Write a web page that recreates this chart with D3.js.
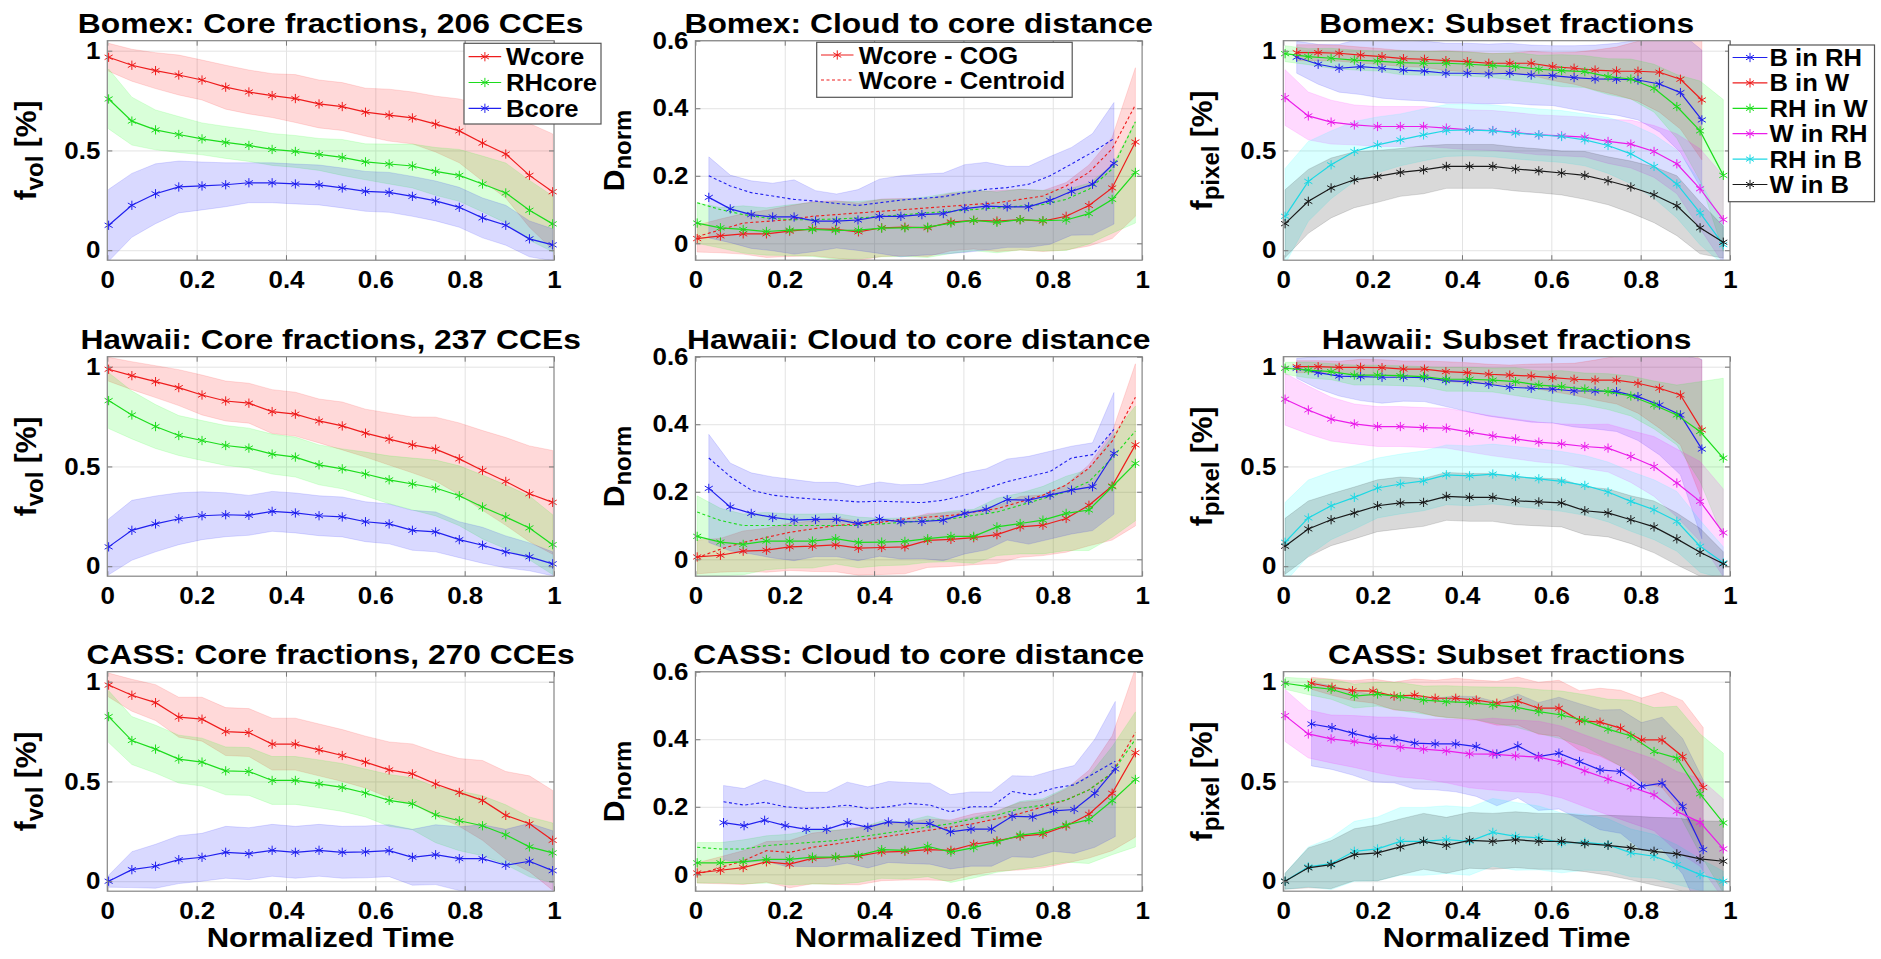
<!DOCTYPE html>
<html>
<head>
<meta charset="utf-8">
<script src="https://cdn.jsdelivr.net/npm/d3@7"></script>
<style>
  body { margin: 0; background: #fff; }
  text { font-family: "Liberation Sans", Arial, sans-serif; font-weight: bold; fill: #000; }
</style>
</head>
<body>
<svg id="fig"></svg>
<script>
// ---------- data ----------
var cases = ["Bomex", "Hawaii", "CASS"];
var cceCounts = [206, 237, 270];

// normalized time grids
var tCore = [0.003, 0.055, 0.108, 0.160, 0.212, 0.265, 0.317, 0.369, 0.421, 0.474, 0.526, 0.578, 0.631, 0.683, 0.735, 0.788, 0.840, 0.892, 0.945, 0.997];
var tLong = [0.004, 0.056, 0.107, 0.159, 0.211, 0.262, 0.314, 0.365, 0.417, 0.469, 0.520, 0.572, 0.623, 0.675, 0.727, 0.778, 0.830, 0.881, 0.933, 0.985];
var tShort = [0.030, 0.078, 0.125, 0.173, 0.221, 0.269, 0.316, 0.364, 0.412, 0.460, 0.507, 0.555, 0.603, 0.651, 0.698, 0.746, 0.794, 0.842, 0.889, 0.937];
var tShortCass = [0.063, 0.109, 0.155, 0.201, 0.248, 0.294, 0.340, 0.386, 0.432, 0.478, 0.525, 0.571, 0.617, 0.663, 0.709, 0.755, 0.802, 0.848, 0.894, 0.940];

// core fractions (mean, spread)
var bomexWcore   = [0.967, 0.927, 0.900, 0.878, 0.853, 0.817, 0.793, 0.775, 0.760, 0.733, 0.720, 0.692, 0.677, 0.663, 0.632, 0.598, 0.537, 0.482, 0.375, 0.293];
var bomexWcoreSd = [0.07, 0.08, 0.09, 0.10, 0.10, 0.11, 0.11, 0.11, 0.12, 0.12, 0.12, 0.12, 0.13, 0.13, 0.14, 0.16, 0.19, 0.22, 0.26, 0.29];
var bomexRHcore   = [0.758, 0.647, 0.603, 0.580, 0.558, 0.540, 0.525, 0.505, 0.495, 0.480, 0.465, 0.443, 0.432, 0.422, 0.395, 0.375, 0.332, 0.287, 0.200, 0.132];
var bomexRHcoreSd = [0.15, 0.12, 0.10, 0.09, 0.08, 0.08, 0.08, 0.08, 0.08, 0.08, 0.09, 0.09, 0.10, 0.11, 0.12, 0.13, 0.14, 0.15, 0.15, 0.14];
var bomexBcore   = [0.125, 0.225, 0.283, 0.317, 0.322, 0.328, 0.338, 0.338, 0.332, 0.327, 0.312, 0.295, 0.290, 0.270, 0.247, 0.215, 0.162, 0.125, 0.057, 0.027];
var bomexBcoreSd = [0.18, 0.16, 0.15, 0.13, 0.12, 0.11, 0.10, 0.10, 0.10, 0.10, 0.10, 0.10, 0.10, 0.10, 0.10, 0.10, 0.10, 0.10, 0.09, 0.08];

var hawaiiWcore   = [0.987, 0.955, 0.925, 0.895, 0.858, 0.828, 0.817, 0.775, 0.762, 0.728, 0.703, 0.667, 0.637, 0.608, 0.587, 0.538, 0.480, 0.425, 0.363, 0.320];
var hawaiiWcoreSd = [0.06, 0.07, 0.08, 0.09, 0.10, 0.10, 0.10, 0.11, 0.11, 0.11, 0.12, 0.12, 0.13, 0.14, 0.16, 0.18, 0.20, 0.22, 0.24, 0.26];
var hawaiiRHcore   = [0.830, 0.758, 0.700, 0.655, 0.630, 0.605, 0.592, 0.562, 0.547, 0.508, 0.488, 0.462, 0.433, 0.412, 0.392, 0.353, 0.297, 0.247, 0.192, 0.108];
var hawaiiRHcoreSd = [0.14, 0.12, 0.11, 0.10, 0.10, 0.10, 0.10, 0.10, 0.10, 0.10, 0.10, 0.11, 0.12, 0.13, 0.14, 0.15, 0.16, 0.16, 0.16, 0.15];
var hawaiiBcore   = [0.097, 0.180, 0.212, 0.238, 0.253, 0.258, 0.255, 0.275, 0.267, 0.253, 0.247, 0.223, 0.212, 0.180, 0.172, 0.133, 0.105, 0.072, 0.047, 0.012];
var hawaiiBcoreSd = [0.14, 0.15, 0.14, 0.13, 0.12, 0.11, 0.10, 0.10, 0.10, 0.10, 0.10, 0.10, 0.10, 0.10, 0.10, 0.09, 0.09, 0.08, 0.07, 0.06];

var cassWcore   = [0.983, 0.932, 0.895, 0.822, 0.812, 0.750, 0.745, 0.687, 0.687, 0.658, 0.630, 0.597, 0.558, 0.538, 0.487, 0.445, 0.405, 0.330, 0.288, 0.205];
var cassWcoreSd = [0.06, 0.08, 0.09, 0.10, 0.11, 0.12, 0.12, 0.13, 0.13, 0.13, 0.13, 0.13, 0.14, 0.15, 0.16, 0.17, 0.20, 0.22, 0.24, 0.25];
var cassRHcore   = [0.825, 0.705, 0.662, 0.612, 0.597, 0.553, 0.550, 0.505, 0.505, 0.488, 0.470, 0.442, 0.405, 0.388, 0.333, 0.303, 0.278, 0.233, 0.172, 0.142];
var cassRHcoreSd = [0.13, 0.12, 0.12, 0.12, 0.12, 0.12, 0.12, 0.12, 0.12, 0.12, 0.12, 0.12, 0.13, 0.13, 0.14, 0.15, 0.15, 0.15, 0.15, 0.15];
var cassBcore   = [0.000, 0.058, 0.075, 0.108, 0.120, 0.145, 0.138, 0.155, 0.145, 0.155, 0.145, 0.147, 0.153, 0.120, 0.133, 0.113, 0.113, 0.080, 0.100, 0.053];
var cassBcoreSd = [0.03, 0.09, 0.11, 0.12, 0.12, 0.13, 0.13, 0.13, 0.13, 0.13, 0.13, 0.13, 0.13, 0.14, 0.15, 0.16, 0.17, 0.18, 0.19, 0.20];

// cloud to core distance: COG (mean, spread) and centroid (dashed)
var bomexDistW     = [0.014, 0.022, 0.028, 0.028, 0.036, 0.043, 0.041, 0.034, 0.046, 0.048, 0.046, 0.063, 0.068, 0.066, 0.070, 0.066, 0.080, 0.112, 0.164, 0.300];
var bomexDistWSd   = [0.04, 0.05, 0.06, 0.07, 0.075, 0.08, 0.085, 0.085, 0.085, 0.085, 0.085, 0.085, 0.085, 0.09, 0.09, 0.09, 0.10, 0.12, 0.15, 0.22];
var bomexDistWCen  = [0.020, 0.040, 0.060, 0.065, 0.070, 0.080, 0.085, 0.090, 0.095, 0.100, 0.105, 0.110, 0.115, 0.120, 0.130, 0.140, 0.170, 0.210, 0.280, 0.410];
var bomexDistRH    = [0.060, 0.046, 0.041, 0.035, 0.039, 0.041, 0.038, 0.039, 0.045, 0.046, 0.048, 0.060, 0.068, 0.062, 0.070, 0.067, 0.069, 0.088, 0.130, 0.210];
var bomexDistRHSd  = [0.06, 0.06, 0.07, 0.07, 0.075, 0.08, 0.085, 0.085, 0.085, 0.085, 0.09, 0.09, 0.09, 0.09, 0.09, 0.09, 0.09, 0.09, 0.10, 0.15];
var bomexDistRHCen = [0.120, 0.100, 0.085, 0.075, 0.070, 0.070, 0.072, 0.075, 0.080, 0.085, 0.090, 0.095, 0.100, 0.105, 0.110, 0.115, 0.130, 0.160, 0.220, 0.360];
var bomexDistB     = [0.136, 0.102, 0.085, 0.078, 0.078, 0.066, 0.066, 0.069, 0.080, 0.080, 0.085, 0.088, 0.103, 0.110, 0.108, 0.108, 0.127, 0.154, 0.175, 0.237];
var bomexDistBSd   = [0.12, 0.10, 0.10, 0.10, 0.11, 0.09, 0.08, 0.09, 0.11, 0.12, 0.12, 0.12, 0.13, 0.13, 0.12, 0.12, 0.13, 0.13, 0.15, 0.18];
var bomexDistBCen  = [0.200, 0.170, 0.150, 0.140, 0.130, 0.125, 0.118, 0.112, 0.120, 0.128, 0.133, 0.138, 0.150, 0.160, 0.165, 0.175, 0.200, 0.235, 0.270, 0.310];

var hawaiiDistW     = [0.007, 0.012, 0.024, 0.027, 0.037, 0.039, 0.043, 0.033, 0.035, 0.037, 0.056, 0.059, 0.064, 0.073, 0.096, 0.101, 0.121, 0.160, 0.217, 0.339];
var hawaiiDistWSd   = [0.05, 0.05, 0.06, 0.065, 0.07, 0.075, 0.08, 0.08, 0.08, 0.08, 0.08, 0.08, 0.08, 0.085, 0.09, 0.09, 0.10, 0.12, 0.16, 0.24];
var hawaiiDistWCen  = [0.005, 0.030, 0.050, 0.065, 0.080, 0.090, 0.100, 0.105, 0.110, 0.120, 0.125, 0.130, 0.140, 0.150, 0.170, 0.190, 0.220, 0.270, 0.350, 0.480];
var hawaiiDistRH    = [0.068, 0.051, 0.044, 0.054, 0.054, 0.054, 0.061, 0.050, 0.051, 0.053, 0.061, 0.068, 0.068, 0.096, 0.106, 0.116, 0.136, 0.146, 0.215, 0.284];
var hawaiiDistRHSd  = [0.12, 0.10, 0.09, 0.085, 0.08, 0.08, 0.075, 0.075, 0.07, 0.07, 0.07, 0.075, 0.08, 0.085, 0.09, 0.10, 0.11, 0.12, 0.15, 0.17];
var hawaiiDistRHCen = [0.140, 0.115, 0.100, 0.100, 0.100, 0.100, 0.100, 0.100, 0.105, 0.110, 0.115, 0.120, 0.130, 0.140, 0.160, 0.180, 0.200, 0.230, 0.300, 0.380];
var hawaiiDistB     = [0.210, 0.155, 0.136, 0.124, 0.116, 0.118, 0.118, 0.106, 0.119, 0.111, 0.112, 0.116, 0.136, 0.148, 0.177, 0.175, 0.190, 0.205, 0.215, 0.314];
var hawaiiDistBSd   = [0.16, 0.13, 0.12, 0.12, 0.12, 0.11, 0.11, 0.11, 0.11, 0.11, 0.11, 0.12, 0.12, 0.12, 0.12, 0.13, 0.13, 0.13, 0.13, 0.18];
var hawaiiDistBCen  = [0.300, 0.245, 0.205, 0.190, 0.183, 0.178, 0.175, 0.170, 0.172, 0.170, 0.168, 0.175, 0.190, 0.210, 0.230, 0.245, 0.260, 0.300, 0.310, 0.385];

var cassDistW     = [0.004, 0.012, 0.020, 0.037, 0.030, 0.047, 0.050, 0.054, 0.066, 0.068, 0.073, 0.071, 0.089, 0.099, 0.113, 0.119, 0.143, 0.178, 0.240, 0.360];
var cassDistWSd   = [0.03, 0.04, 0.05, 0.06, 0.07, 0.075, 0.08, 0.085, 0.085, 0.085, 0.09, 0.09, 0.09, 0.09, 0.10, 0.10, 0.11, 0.13, 0.17, 0.25];
var cassDistWCen  = [0.000, 0.020, 0.040, 0.070, 0.065, 0.080, 0.090, 0.100, 0.110, 0.120, 0.130, 0.140, 0.150, 0.165, 0.180, 0.200, 0.220, 0.250, 0.300, 0.420];
var cassDistRH    = [0.034, 0.034, 0.037, 0.044, 0.044, 0.051, 0.051, 0.056, 0.073, 0.071, 0.083, 0.066, 0.079, 0.096, 0.116, 0.124, 0.146, 0.162, 0.218, 0.281];
var cassDistRHSd  = [0.06, 0.06, 0.065, 0.07, 0.075, 0.08, 0.08, 0.08, 0.085, 0.085, 0.09, 0.09, 0.09, 0.09, 0.10, 0.10, 0.11, 0.13, 0.16, 0.20];
var cassDistRHCen = [0.080, 0.075, 0.075, 0.085, 0.090, 0.095, 0.100, 0.110, 0.120, 0.130, 0.140, 0.150, 0.165, 0.175, 0.195, 0.205, 0.220, 0.250, 0.300, 0.400];
var cassDistB     = [0.153, 0.144, 0.160, 0.144, 0.133, 0.133, 0.153, 0.139, 0.155, 0.152, 0.150, 0.126, 0.134, 0.134, 0.172, 0.170, 0.188, 0.192, 0.240, 0.312];
var cassDistBSd   = [0.11, 0.11, 0.12, 0.12, 0.11, 0.11, 0.12, 0.12, 0.12, 0.12, 0.12, 0.11, 0.11, 0.11, 0.12, 0.12, 0.12, 0.13, 0.16, 0.20];
var cassDistBCen  = [0.215, 0.205, 0.213, 0.200, 0.195, 0.198, 0.205, 0.195, 0.200, 0.210, 0.205, 0.185, 0.200, 0.200, 0.245, 0.235, 0.255, 0.265, 0.300, 0.335];

// subset fractions (mean, spread)
var bomexBinRH   = [0.967, 0.932, 0.912, 0.920, 0.912, 0.903, 0.898, 0.887, 0.887, 0.883, 0.887, 0.878, 0.875, 0.865, 0.858, 0.857, 0.853, 0.833, 0.790, 0.653];
var bomexBinRHSd = [0.08, 0.10, 0.12, 0.14, 0.15, 0.15, 0.15, 0.15, 0.15, 0.15, 0.15, 0.15, 0.15, 0.16, 0.17, 0.18, 0.20, 0.24, 0.30, 0.35];
var bomexBinW    = [0.990, 0.990, 0.987, 0.978, 0.970, 0.960, 0.957, 0.950, 0.945, 0.937, 0.937, 0.937, 0.920, 0.912, 0.903, 0.898, 0.897, 0.892, 0.857, 0.753];
var bomexBinWSd  = [0.04, 0.04, 0.04, 0.04, 0.04, 0.04, 0.04, 0.05, 0.05, 0.05, 0.05, 0.06, 0.07, 0.08, 0.10, 0.12, 0.15, 0.20, 0.25, 0.30];
var bomexRHinW   = [0.985, 0.970, 0.962, 0.953, 0.948, 0.940, 0.937, 0.937, 0.932, 0.925, 0.920, 0.907, 0.900, 0.895, 0.870, 0.858, 0.812, 0.720, 0.598, 0.375];
var bomexRHinWSd = [0.04, 0.04, 0.05, 0.05, 0.05, 0.06, 0.06, 0.06, 0.06, 0.06, 0.07, 0.07, 0.08, 0.08, 0.09, 0.10, 0.12, 0.16, 0.25, 0.38];
var bomexWinRH   = [0.765, 0.673, 0.642, 0.628, 0.620, 0.620, 0.620, 0.612, 0.603, 0.600, 0.590, 0.578, 0.573, 0.567, 0.545, 0.532, 0.495, 0.433, 0.308, 0.153];
var bomexWinRHSd = [0.14, 0.12, 0.11, 0.10, 0.10, 0.10, 0.10, 0.10, 0.10, 0.10, 0.10, 0.10, 0.10, 0.10, 0.11, 0.12, 0.13, 0.15, 0.20, 0.22];
var bomexRHinB   = [0.170, 0.345, 0.428, 0.495, 0.528, 0.553, 0.578, 0.600, 0.603, 0.598, 0.587, 0.578, 0.570, 0.553, 0.525, 0.483, 0.420, 0.332, 0.187, 0.028];
var bomexRHinBSd = [0.24, 0.20, 0.17, 0.15, 0.14, 0.13, 0.13, 0.13, 0.13, 0.13, 0.13, 0.13, 0.13, 0.13, 0.14, 0.15, 0.16, 0.17, 0.16, 0.10];
var bomexWinB    = [0.133, 0.245, 0.312, 0.353, 0.370, 0.390, 0.403, 0.420, 0.420, 0.420, 0.407, 0.398, 0.387, 0.375, 0.348, 0.317, 0.278, 0.223, 0.112, 0.040];
var bomexWinBSd  = [0.17, 0.16, 0.15, 0.14, 0.13, 0.12, 0.12, 0.11, 0.11, 0.11, 0.11, 0.11, 0.11, 0.12, 0.12, 0.13, 0.14, 0.15, 0.13, 0.08];

var hawaiiBinRH   = [0.992, 0.970, 0.953, 0.950, 0.947, 0.947, 0.945, 0.930, 0.925, 0.912, 0.897, 0.892, 0.888, 0.878, 0.878, 0.875, 0.850, 0.808, 0.758, 0.587];
var hawaiiBinRHSd = [0.05, 0.08, 0.10, 0.12, 0.13, 0.12, 0.12, 0.13, 0.15, 0.16, 0.16, 0.17, 0.17, 0.18, 0.19, 0.20, 0.22, 0.25, 0.30, 0.45];
var hawaiiBinW    = [1.000, 1.000, 0.997, 0.997, 0.995, 0.988, 0.988, 0.975, 0.970, 0.962, 0.958, 0.953, 0.945, 0.937, 0.933, 0.933, 0.917, 0.892, 0.858, 0.683];
var hawaiiBinWSd  = [0.03, 0.03, 0.03, 0.04, 0.04, 0.04, 0.04, 0.05, 0.05, 0.05, 0.05, 0.06, 0.07, 0.08, 0.10, 0.12, 0.15, 0.20, 0.25, 0.35];
var hawaiiRHinW   = [0.992, 0.983, 0.975, 0.958, 0.958, 0.955, 0.950, 0.937, 0.937, 0.933, 0.925, 0.908, 0.900, 0.888, 0.875, 0.853, 0.808, 0.758, 0.675, 0.542];
var hawaiiRHinWSd = [0.03, 0.04, 0.04, 0.05, 0.05, 0.05, 0.05, 0.06, 0.06, 0.06, 0.07, 0.07, 0.08, 0.08, 0.09, 0.10, 0.12, 0.15, 0.25, 0.40];
var hawaiiWinRH   = [0.837, 0.783, 0.737, 0.713, 0.700, 0.700, 0.695, 0.692, 0.672, 0.653, 0.638, 0.622, 0.613, 0.600, 0.592, 0.550, 0.500, 0.417, 0.325, 0.167];
var hawaiiWinRHSd = [0.13, 0.12, 0.11, 0.10, 0.10, 0.10, 0.10, 0.10, 0.10, 0.10, 0.10, 0.10, 0.10, 0.11, 0.12, 0.13, 0.15, 0.17, 0.20, 0.22];
var hawaiiRHinB   = [0.120, 0.242, 0.303, 0.345, 0.392, 0.412, 0.428, 0.458, 0.453, 0.462, 0.450, 0.438, 0.425, 0.405, 0.372, 0.325, 0.283, 0.225, 0.100, 0.017];
var hawaiiRHinBSd = [0.20, 0.19, 0.17, 0.16, 0.15, 0.15, 0.15, 0.15, 0.15, 0.15, 0.15, 0.15, 0.15, 0.15, 0.15, 0.15, 0.15, 0.15, 0.13, 0.08];
var hawaiiWinB    = [0.100, 0.187, 0.233, 0.267, 0.303, 0.317, 0.320, 0.350, 0.345, 0.345, 0.328, 0.322, 0.317, 0.278, 0.267, 0.233, 0.197, 0.137, 0.070, 0.012];
var hawaiiWinBSd  = [0.14, 0.14, 0.13, 0.13, 0.13, 0.13, 0.12, 0.12, 0.12, 0.12, 0.12, 0.12, 0.12, 0.12, 0.12, 0.12, 0.13, 0.13, 0.12, 0.06];

var cassBinRH   = [0.788, 0.770, 0.742, 0.717, 0.713, 0.692, 0.688, 0.688, 0.675, 0.638, 0.678, 0.625, 0.642, 0.600, 0.558, 0.550, 0.475, 0.492, 0.375, 0.158];
var cassBinRHSd = [0.21, 0.21, 0.21, 0.22, 0.22, 0.23, 0.23, 0.24, 0.25, 0.26, 0.26, 0.27, 0.28, 0.29, 0.30, 0.31, 0.32, 0.33, 0.34, 0.35];
var cassBinW    = [0.992, 0.972, 0.955, 0.953, 0.928, 0.933, 0.917, 0.917, 0.908, 0.892, 0.903, 0.867, 0.867, 0.805, 0.797, 0.767, 0.708, 0.708, 0.625, 0.470];
var cassBinWSd  = [0.03, 0.04, 0.05, 0.06, 0.07, 0.08, 0.09, 0.10, 0.10, 0.11, 0.12, 0.13, 0.14, 0.15, 0.17, 0.19, 0.21, 0.24, 0.28, 0.30];
var cassRHinW   = [0.992, 0.975, 0.962, 0.928, 0.938, 0.925, 0.908, 0.900, 0.895, 0.883, 0.872, 0.850, 0.833, 0.805, 0.762, 0.728, 0.650, 0.617, 0.438, 0.292];
var cassRHinWSd = [0.03, 0.04, 0.05, 0.06, 0.06, 0.07, 0.07, 0.08, 0.08, 0.09, 0.10, 0.11, 0.12, 0.13, 0.15, 0.18, 0.22, 0.26, 0.30, 0.35];
var cassWinRH   = [0.830, 0.738, 0.713, 0.700, 0.683, 0.672, 0.662, 0.653, 0.638, 0.637, 0.628, 0.622, 0.597, 0.553, 0.512, 0.472, 0.433, 0.350, 0.295, 0.162];
var cassWinRHSd = [0.13, 0.12, 0.12, 0.13, 0.14, 0.15, 0.15, 0.16, 0.17, 0.18, 0.18, 0.18, 0.18, 0.18, 0.18, 0.18, 0.18, 0.20, 0.22, 0.25];
var cassRHinB   = [0.000, 0.072, 0.088, 0.150, 0.162, 0.200, 0.200, 0.208, 0.200, 0.245, 0.225, 0.217, 0.192, 0.195, 0.183, 0.142, 0.125, 0.083, 0.033, 0.000];
var cassRHinBSd = [0.04, 0.10, 0.13, 0.15, 0.16, 0.17, 0.17, 0.17, 0.17, 0.17, 0.17, 0.16, 0.15, 0.14, 0.13, 0.12, 0.11, 0.10, 0.08, 0.05];
var cassWinB    = [0.000, 0.067, 0.083, 0.133, 0.142, 0.172, 0.200, 0.180, 0.205, 0.200, 0.208, 0.200, 0.200, 0.188, 0.180, 0.167, 0.150, 0.137, 0.112, 0.100];
var cassWinBSd  = [0.04, 0.10, 0.12, 0.13, 0.14, 0.14, 0.14, 0.14, 0.14, 0.14, 0.14, 0.14, 0.14, 0.14, 0.15, 0.16, 0.17, 0.18, 0.19, 0.20];

var coreLabels = ["Wcore", "RHcore", "Bcore"];
var distLabels = ["Wcore - COG", "Wcore - Centroid"];
var subsetLabels = ["B in RH", "B in W", "RH in W", "W in RH", "RH in B", "W in B"];
var xTicks = [0, 0.2, 0.4, 0.6, 0.8, 1];

// ---------- layout / style ----------
var W = 1881, H = 959;
var colX = [107.3, 695.4, 1283.3], pw = 446.7;
var rowY = [40.7, 356.7, 671.7], ph = 219.5;
var lineCol = {r: "#ee1c1c", g: "#1cdc1c", b: "#2020ee", m: "#ea1cea", c: "#1cd8e4", k: "#1a1a1a"};
var fillCol = {r: "#ff0000", g: "#00ff00", b: "#0000ff", m: "#ff00ff", c: "#00ffff", k: "#000000"};

var svg = d3.select("#fig").attr("width", W).attr("height", H);
var defs = svg.append("defs");

function stext(g, x, y, str, size, k, anchor) {
	return g.append("text")
		.attr("transform", "translate(" + x + "," + y + ") scale(" + k + ",1)")
		.attr("text-anchor", anchor)
		.style("font-size", size + "px")
		.text(str);
}

function ser(t, v, sd, c) { return {t: t, v: v, sd: sd, c: c}; }

// build the nine panels from the arrays
var core = [
	[bomexWcore, bomexWcoreSd, bomexRHcore, bomexRHcoreSd, bomexBcore, bomexBcoreSd],
	[hawaiiWcore, hawaiiWcoreSd, hawaiiRHcore, hawaiiRHcoreSd, hawaiiBcore, hawaiiBcoreSd],
	[cassWcore, cassWcoreSd, cassRHcore, cassRHcoreSd, cassBcore, cassBcoreSd]
];
var dist = [
	[bomexDistW, bomexDistWSd, bomexDistWCen, bomexDistRH, bomexDistRHSd, bomexDistRHCen, bomexDistB, bomexDistBSd, bomexDistBCen, tShort],
	[hawaiiDistW, hawaiiDistWSd, hawaiiDistWCen, hawaiiDistRH, hawaiiDistRHSd, hawaiiDistRHCen, hawaiiDistB, hawaiiDistBSd, hawaiiDistBCen, tShort],
	[cassDistW, cassDistWSd, cassDistWCen, cassDistRH, cassDistRHSd, cassDistRHCen, cassDistB, cassDistBSd, cassDistBCen, tShortCass]
];
var subs = [
	[bomexBinRH, bomexBinRHSd, bomexBinW, bomexBinWSd, bomexRHinW, bomexRHinWSd, bomexWinRH, bomexWinRHSd, bomexRHinB, bomexRHinBSd, bomexWinB, bomexWinBSd, tShort],
	[hawaiiBinRH, hawaiiBinRHSd, hawaiiBinW, hawaiiBinWSd, hawaiiRHinW, hawaiiRHinWSd, hawaiiWinRH, hawaiiWinRHSd, hawaiiRHinB, hawaiiRHinBSd, hawaiiWinB, hawaiiWinBSd, tShort],
	[cassBinRH, cassBinRHSd, cassBinW, cassBinWSd, cassRHinW, cassRHinWSd, cassWinRH, cassWinRHSd, cassRHinB, cassRHinBSd, cassWinB, cassWinBSd, tShortCass]
];

var panels = [];
cases.forEach(function(name, r) {
	var c = core[r], d = dist[r], s = subs[r];
	panels.push({row: r, col: 0, title: name + ": Core fractions, " + cceCounts[r] + " CCEs",
		ylab: ["f", "vol", " [%]"], yDomain: [-0.05, 1.05], yTicks: [0, 0.5, 1],
		series: [ser(tCore, c[0], c[1], "r"), ser(tCore, c[2], c[3], "g"), ser(tCore, c[4], c[5], "b")],
		dashed: []});
	panels.push({row: r, col: 1, title: name + ": Cloud to core distance",
		ylab: ["D", "norm", ""], yDomain: [-0.05, 0.6], yTicks: [0, 0.2, 0.4, 0.6],
		series: [ser(tLong, d[0], d[1], "r"), ser(tLong, d[3], d[4], "g"), ser(d[9], d[6], d[7], "b")],
		dashed: [{t: tLong, v: d[2], c: "r"}, {t: tLong, v: d[5], c: "g"}, {t: d[9], v: d[8], c: "b"}]});
	panels.push({row: r, col: 2, title: name + ": Subset fractions",
		ylab: ["f", "pixel", " [%]"], yDomain: [-0.05, 1.05], yTicks: [0, 0.5, 1],
		series: [ser(s[12], s[0], s[1], "b"), ser(s[12], s[2], s[3], "r"), ser(tLong, s[4], s[5], "g"),
			ser(tLong, s[6], s[7], "m"), ser(tLong, s[8], s[9], "c"), ser(tLong, s[10], s[11], "k")],
		dashed: []});
});

var fmt = function(d) { return String(+d.toFixed(1)); };
var star = d3.symbol().type(d3.symbolAsterisk).size(60);

panels.forEach(function(p) {
	var x0 = colX[p.col], y0 = rowY[p.row];
	var g = svg.append("g").attr("transform", "translate(" + x0 + "," + y0 + ")");
	var x = d3.scaleLinear().domain([0, 1]).range([0, pw]);
	var y = d3.scaleLinear().domain(p.yDomain).range([ph, 0]);

	// grid
	g.append("g").attr("transform", "translate(0," + ph + ")")
		.call(d3.axisBottom(x).tickValues([0.2, 0.4, 0.6, 0.8]).tickSize(-ph).tickFormat(""))
		.call(function(a) { a.select(".domain").remove(); a.selectAll("line").attr("stroke", "#e3e3e3"); });
	g.append("g")
		.call(d3.axisLeft(y).tickValues(p.yTicks).tickSize(-pw).tickFormat(""))
		.call(function(a) { a.select(".domain").remove(); a.selectAll("line").attr("stroke", "#e3e3e3"); });

	var clipId = "clip" + p.row + p.col;
	defs.append("clipPath").attr("id", clipId).append("rect").attr("width", pw).attr("height", ph);
	var plot = g.append("g").attr("clip-path", "url(#" + clipId + ")");

	var area = d3.area().x(function(d) { return x(d.t); })
		.y0(function(d) { return y(d.v - d.s); }).y1(function(d) { return y(d.v + d.s); });
	var line = d3.line().x(function(d) { return x(d.t); }).y(function(d) { return y(d.v); });

	var pts = p.series.map(function(s) {
		return s.t.map(function(t, i) { return {t: t, v: s.v[i], s: s.sd[i]}; });
	});

	// bands
	p.series.forEach(function(s, k) {
		plot.append("path").datum(pts[k]).attr("d", area)
			.attr("fill", fillCol[s.c]).attr("fill-opacity", 0.15)
			.attr("stroke", fillCol[s.c]).attr("stroke-opacity", 0.12);
	});
	// centroid (dashed) lines
	p.dashed.forEach(function(s) {
		var dp = s.t.map(function(t, i) { return {t: t, v: s.v[i]}; });
		plot.append("path").datum(dp).attr("d", line)
			.attr("fill", "none").attr("stroke", lineCol[s.c]).attr("stroke-width", 1.1)
			.attr("stroke-dasharray", "3,2.5");
	});
	// mean lines with asterisk markers
	p.series.forEach(function(s, k) {
		g.append("path").datum(pts[k]).attr("d", line)
			.attr("fill", "none").attr("stroke", lineCol[s.c]).attr("stroke-width", 1.2);
		g.append("g").selectAll("path").data(pts[k]).join("path")
			.attr("transform", function(d) { return "translate(" + x(d.t) + "," + y(d.v) + ")"; })
			.attr("d", star).attr("fill", "none").attr("stroke", lineCol[s.c]).attr("stroke-width", 1);
	});

	// axes with inward ticks
	var tickStyle = function(a) {
		a.select(".domain").remove();
		a.selectAll(".tick line").attr("stroke", "#777");
		a.selectAll(".tick text").style("font-size", "24px").attr("fill", "#000")
			.attr("transform", "scale(1.08,1)");
	};
	g.append("g").attr("transform", "translate(0," + ph + ")")
		.call(d3.axisBottom(x).tickValues(xTicks).tickFormat(fmt).tickSize(-5).tickPadding(11))
		.call(tickStyle);
	g.append("g")
		.call(d3.axisLeft(y).tickValues(p.yTicks).tickFormat(fmt).tickSize(-5).tickPadding(6.4))
		.call(tickStyle);
	g.append("g").call(d3.axisTop(x).tickValues(xTicks).tickFormat("").tickSize(-5)).call(tickStyle);
	g.append("g").attr("transform", "translate(" + pw + ",0)")
		.call(d3.axisRight(y).tickValues(p.yTicks).tickFormat("").tickSize(-5)).call(tickStyle);

	g.append("rect").attr("width", pw).attr("height", ph)
		.attr("fill", "none").attr("stroke", "#858585").attr("stroke-width", 1.2);

	// title
	stext(g, pw / 2, -8, p.title, 28, 1.137, "middle");

	// y label
	var yl = g.append("text")
		.attr("transform", "translate(-71," + (ph / 2) + ") rotate(-90)")
		.attr("text-anchor", "middle").style("font-size", "30px");
	yl.append("tspan").text(p.ylab[0]);
	yl.append("tspan").attr("dy", 7).style("font-size", "24px").text(p.ylab[1]);
	if (p.ylab[2]) yl.append("tspan").attr("dy", -7).text(p.ylab[2]);

	if (p.row === 2) stext(g, pw / 2, ph + 55.5, "Normalized Time", 28.5, 1.09, "middle");
});

// ---------- legends ----------
function legend(box, items, y0, step, lx0, lx1, tx) {
	var lg = svg.append("g");
	lg.append("rect").attr("x", box[0]).attr("y", box[1]).attr("width", box[2]).attr("height", box[3])
		.attr("fill", "#fff").attr("stroke", "#555").attr("stroke-width", 1.2);
	items.forEach(function(it, i) {
		var yy = y0 + i * step;
		var ln = lg.append("line").attr("x1", lx0).attr("x2", lx1).attr("y1", yy).attr("y2", yy)
			.attr("stroke", lineCol[it.c]).attr("stroke-width", 1.2);
		if (it.dash) ln.attr("stroke-dasharray", "3,2.5");
		else lg.append("path").attr("transform", "translate(" + ((lx0 + lx1) / 2) + "," + yy + ")")
			.attr("d", star).attr("fill", "none").attr("stroke", lineCol[it.c]);
		stext(lg, tx, yy + 8.5, it.label, 23.5, 1.09, "start");
	});
}

legend([464, 43.3, 137, 80.7],
	[{label: coreLabels[0], c: "r"}, {label: coreLabels[1], c: "g"}, {label: coreLabels[2], c: "b"}],
	56.7, 25.8, 468.6, 501.2, 506);
legend([816.7, 42.3, 255.5, 55],
	[{label: distLabels[0], c: "r"}, {label: distLabels[1], c: "r", dash: true}],
	55, 25, 821, 853.5, 858.7);
legend([1728.5, 45, 146, 156.7],
	subsetLabels.map(function(l, i) { return {label: l, c: ["b", "r", "g", "m", "c", "k"][i]}; }),
	57.5, 25.4, 1732.6, 1767.4, 1769.4);
</script>
</body>
</html>
